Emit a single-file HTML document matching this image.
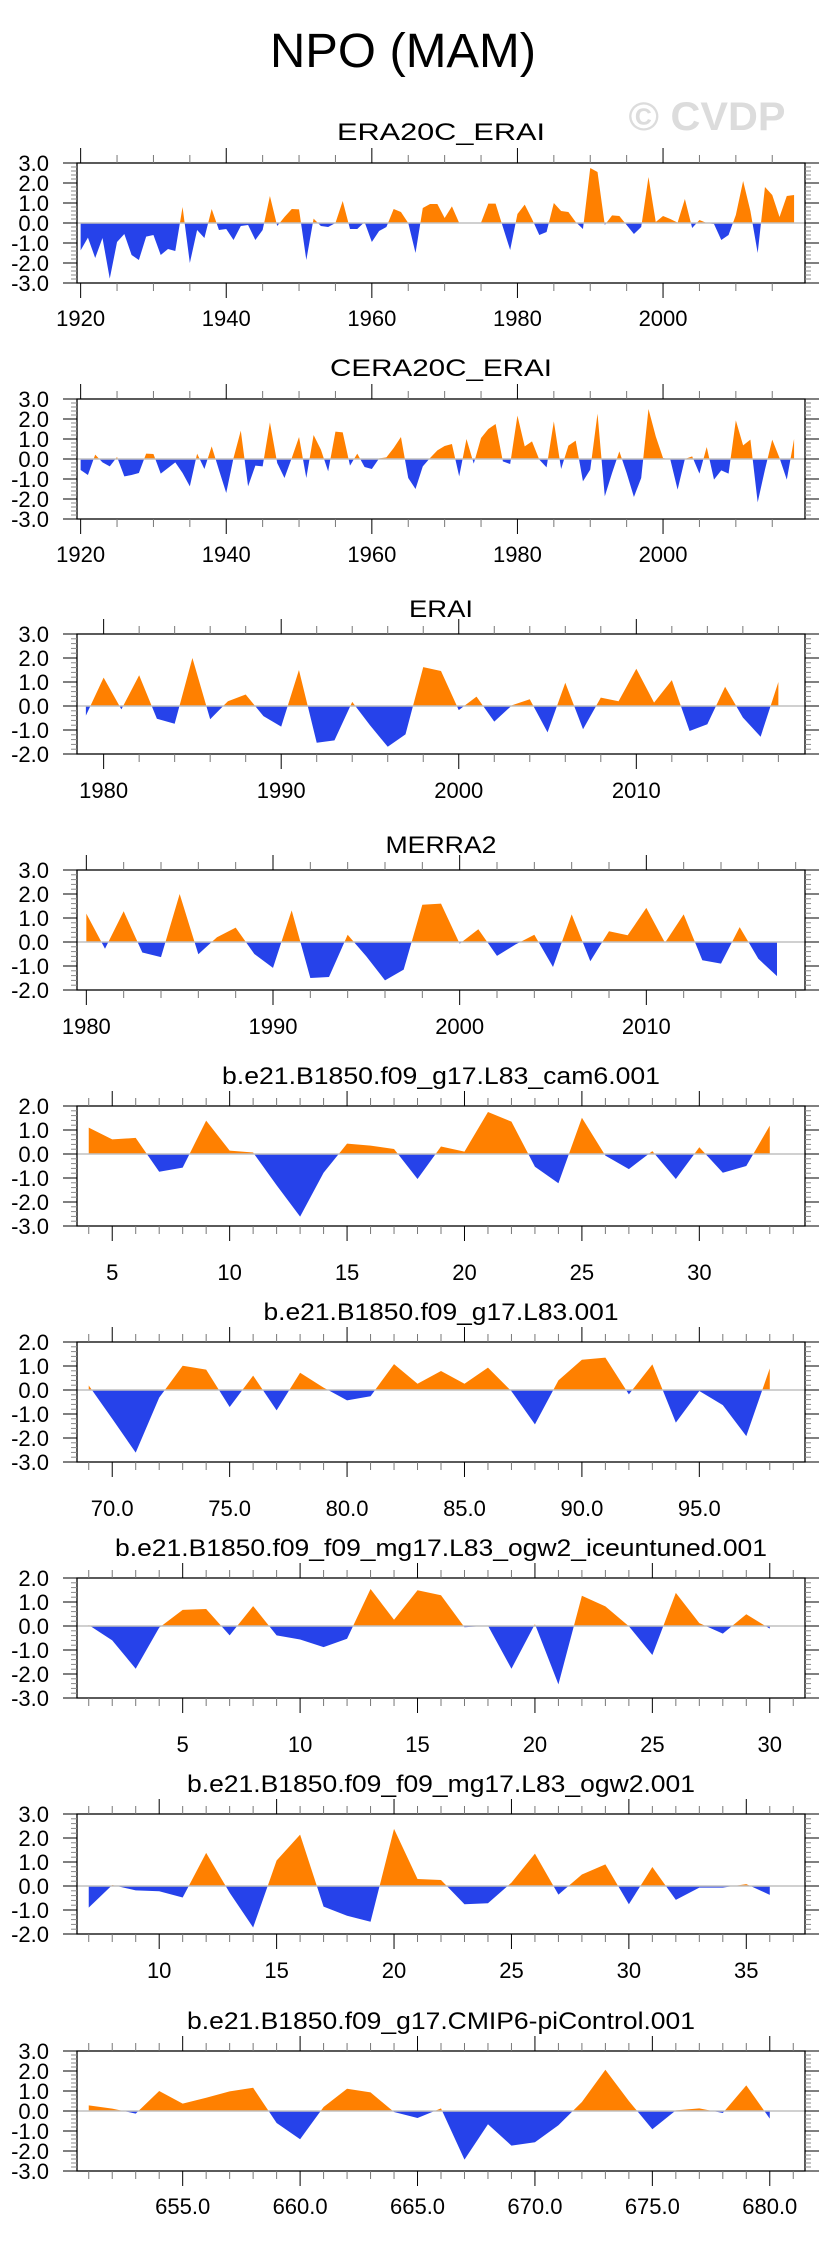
<!DOCTYPE html>
<html><head><meta charset="utf-8"><title>NPO (MAM)</title>
<style>
html,body{margin:0;padding:0;background:#fff;}
svg{display:block;font-family:"Liberation Sans",Arial,sans-serif;}
</style></head>
<body>
<svg id="fig" width="829" height="2245" viewBox="0 0 829 2245" xmlns="http://www.w3.org/2000/svg">
<rect width="829" height="2245" fill="#fff"/>
<text x="403" y="67" font-size="48" text-anchor="middle" textLength="266" lengthAdjust="spacingAndGlyphs">NPO (MAM)</text>
<text x="707" y="130" font-size="40" font-weight="bold" fill="#dcdcdc" text-anchor="middle" textLength="157" lengthAdjust="spacingAndGlyphs">© CVDP</text>
</svg>
<script>
// ---- data ----
const era20cStart = 1920;
const era20cValues = [-1.37,-0.73,-1.75,-0.75,-2.78,-0.95,-0.55,-1.6,-1.85,-0.68,
-0.6,-1.6,-1.3,-1.4,0.8,-2.0,-0.35,-0.75,0.7,-0.35,
-0.3,-0.85,-0.15,-0.1,-0.85,-0.35,1.35,-0.15,0.3,0.7,
0.68,-1.85,0.22,-0.15,-0.2,0.0,1.1,-0.3,-0.3,0.05,
-0.95,-0.4,-0.2,0.7,0.55,0.0,-1.5,0.75,0.95,0.95,
0.25,0.83,0.0,0.02,0,0.02,0.97,0.97,-0.2,-1.35,
0.45,0.92,0.2,-0.6,-0.45,1.0,0.6,0.55,0.05,-0.3,
2.75,2.55,-0.1,0.38,0.35,-0.1,-0.55,-0.2,2.3,0.05,
0.35,0.2,0.02,1.2,-0.25,0.15,0.0,-0.05,-0.85,-0.6,
0.4,2.1,0.6,-1.5,1.8,1.4,0.3,1.35,1.4];
const cera20cStart = 1920;
const cera20cValues = [-0.55,-0.8,0.22,-0.17,-0.37,0.1,-0.87,-0.8,-0.7,0.27,
0.25,-0.73,-0.45,-0.17,-0.7,-1.37,0.27,-0.5,0.63,-0.55,
-1.7,0.05,1.42,-1.37,-0.33,-0.37,1.83,-0.2,-0.95,0.05,
1.1,-0.95,1.2,0.47,-0.62,1.37,1.33,-0.33,0.27,-0.4,
-0.5,0.03,0.08,0.55,1.1,-0.95,-1.5,-0.37,0.05,0.43,
0.65,0.75,-0.87,1.0,-0.23,1.05,1.5,1.75,-0.12,-0.25,
2.17,0.63,0.88,-0.03,-0.42,1.88,-0.5,0.67,0.92,-1.12,
-0.53,2.27,-1.87,-0.7,0.38,-0.7,-1.9,-0.95,2.5,1.13,
0.05,-0.03,-1.53,0.0,0.13,-0.73,0.6,-1.03,-0.57,-0.73,
1.93,0.68,0.97,-2.17,-0.53,0.97,0.05,-1.03,1.0];
const eraiStart = 1979;
const eraiValues = [-0.4,1.18,-0.14,1.28,-0.53,-0.74,2.0,-0.55,0.2,0.48,-0.42,-0.86,1.5,-1.53,-1.43,0.17,-0.8,-1.7,-1.18,1.62,1.46,-0.17,0.39,-0.65,0.03,0.28,-1.1,0.97,-0.97,0.35,0.2,1.55,0.14,1.08,-1.04,-0.76,0.8,-0.48,-1.28,1.0];
const merra2Start = 1980;
const merra2Values = [1.18,-0.28,1.28,-0.44,-0.63,2.0,-0.51,0.2,0.6,-0.5,-1.08,1.32,-1.5,-1.46,0.3,-0.6,-1.6,-1.15,1.55,1.6,-0.07,0.53,-0.58,-0.1,0.3,-1.04,1.15,-0.8,0.45,0.28,1.42,-0.03,1.15,-0.76,-0.9,0.62,-0.7,-1.42];
const cam6Start = 4;
const cam6Values = [1.1,0.61,0.67,-0.74,-0.57,1.39,0.14,0.06,-1.3,-2.61,-0.78,0.43,0.35,0.21,-1.04,0.31,0.1,1.75,1.35,-0.53,-1.22,1.51,-0.07,-0.63,0.12,-1.04,0.28,-0.78,-0.5,1.18];
const l83Start = 69;
const l83Values = [0.19,-1.2,-2.61,-0.32,1.01,0.85,-0.71,0.6,-0.85,0.72,0.1,-0.43,-0.26,1.08,0.26,0.79,0.26,0.93,-0.05,-1.43,0.4,1.26,1.35,-0.18,1.07,-1.36,-0.04,-0.63,-1.92,0.9];
const iceStart = 1;
const iceValues = [0.04,-0.6,-1.78,-0.07,0.67,0.71,-0.39,0.83,-0.39,-0.56,-0.88,-0.53,1.54,0.26,1.49,1.28,-0.05,0.01,-1.78,0.08,-2.43,1.26,0.82,-0.01,-1.21,1.38,0.12,-0.32,0.49,-0.11];
const ogw2Start = 7;
const ogw2Values = [-0.9,0.04,-0.18,-0.22,-0.48,1.38,-0.28,-1.73,1.06,2.14,-0.86,-1.24,-1.49,2.38,0.29,0.25,-0.76,-0.72,0.14,1.35,-0.36,0.48,0.9,-0.76,0.79,-0.58,-0.07,-0.07,0.08,-0.37];
const piStart = 651;
const piValues = [0.28,0.12,-0.13,1.0,0.37,0.66,0.98,1.16,-0.6,-1.41,0.2,1.11,0.93,-0.05,-0.35,0.13,-2.43,-0.66,-1.73,-1.56,-0.71,0.45,2.06,0.5,-0.91,0.03,0.13,-0.1,1.28,-0.38];

const titles = ["ERA20C_ERAI","CERA20C_ERAI","ERAI","MERRA2","b.e21.B1850.f09_g17.L83_cam6.001","b.e21.B1850.f09_g17.L83.001","b.e21.B1850.f09_f09_mg17.L83_ogw2_iceuntuned.001","b.e21.B1850.f09_f09_mg17.L83_ogw2.001","b.e21.B1850.f09_g17.CMIP6-piControl.001"];
const xTickLabels1 = [1920,1940,1960,1980,2000];
const xTickLabels3 = [1980,1990,2000,2010];
const xTickLabels5 = [5,10,15,20,25,30];
const xTickLabels6 = [70,75,80,85,90,95];
const xTickLabels7 = [5,10,15,20,25,30];
const xTickLabels8 = [10,15,20,25,30,35];
const xTickLabels9 = [655,660,665,670,675,680];
const yTicksA = [-3,-2,-1,0,1,2,3];
const yTicksB = [-2,-1,0,1,2,3];
const yTicksC = [-3,-2,-1,0,1,2];

// ---- layout ----
const NS = "http://www.w3.org/2000/svg";
const svg = document.getElementById('fig');
const L = 77, R = 805, H = 120;
function mk(tag, attrs, parent){
  const e = document.createElementNS(NS, tag);
  for (const k in attrs) e.setAttribute(k, attrs[k]);
  (parent||svg).appendChild(e);
  return e;
}
const panels = [
 {start:era20cStart, vals:era20cValues, top:163, ymin:-3, ymax:3, yt:yTicksA, xt:xTickLabels1, minor:5, dec:0, tOff:23, lOff:43, tw:208},
 {start:cera20cStart, vals:cera20cValues, top:399, ymin:-3, ymax:3, yt:yTicksA, xt:xTickLabels1, minor:5, dec:0, tOff:23, lOff:43, tw:222},
 {start:eraiStart, vals:eraiValues, top:634, ymin:-2, ymax:3, yt:yTicksB, xt:xTickLabels3, minor:2, dec:0, tOff:17, lOff:44, tw:64},
 {start:merra2Start, vals:merra2Values, top:870, ymin:-2, ymax:3, yt:yTicksB, xt:xTickLabels3, minor:2, dec:0, tOff:17, lOff:44, tw:111},
 {start:cam6Start, vals:cam6Values, top:1106, ymin:-3, ymax:2, yt:yTicksC, xt:xTickLabels5, minor:1, dec:0, tOff:22, lOff:54, tw:438},
 {start:l83Start, vals:l83Values, top:1342, ymin:-3, ymax:2, yt:yTicksC, xt:xTickLabels6, minor:1, dec:1, tOff:22, lOff:54, tw:355},
 {start:iceStart, vals:iceValues, top:1578, ymin:-3, ymax:2, yt:yTicksC, xt:xTickLabels7, minor:1, dec:0, tOff:22, lOff:54, tw:652},
 {start:ogw2Start, vals:ogw2Values, top:1814, ymin:-2, ymax:3, yt:yTicksB, xt:xTickLabels8, minor:1, dec:0, tOff:22, lOff:44, tw:508},
 {start:piStart, vals:piValues, top:2051, ymin:-3, ymax:3, yt:yTicksA, xt:xTickLabels9, minor:1, dec:1, tOff:22, lOff:43, tw:508}
];

panels.forEach((p, i) => {
  const xs = p.vals.map((v, k) => p.start + k);
  const xmin = xs[0] - 0.5, xmax = xs[xs.length-1] + 1.5;
  const X = v => L + (v - xmin) / (xmax - xmin) * (R - L);
  const Y = v => p.top + (p.ymax - v) / (p.ymax - p.ymin) * H;
  const g = mk('g', {});
  
  

  const t = mk('text', {x:(L+R)/2, y:p.top - p.tOff, 'font-size':24, 'text-anchor':'middle', textLength:p.tw, lengthAdjust:'spacingAndGlyphs'}, g);
  t.textContent = titles[i];
  
  

  const cid = 'c' + i;
  const defs = mk('defs', {}, g);
  const cu = mk('clipPath', {id: cid + 'u'}, defs);
  mk('rect', {x:L, y:p.top, width:R-L, height:Y(0)-p.top}, cu);
  const cd = mk('clipPath', {id: cid + 'd'}, defs);
  mk('rect', {x:L, y:Y(0), width:R-L, height:p.top+H-Y(0)}, cd);
  let d = 'M' + X(xs[0]) + ',' + Y(0);
  xs.forEach((x, k) => { d += ' L' + X(x).toFixed(2) + ',' + Y(p.vals[k]).toFixed(2); });
  d += ' L' + X(xs[xs.length-1]) + ',' + Y(0) + ' Z';
  const up = mk('path', {d:d, fill:'#ff8000', 'clip-path':'url(#' + cid + 'u)'}, g);
  
  
  const dn = mk('path', {d:d, fill:'#2642ea', 'clip-path':'url(#' + cid + 'd)'}, g);
  
  
  const zl = mk('line', {x1:L, x2:R, y1:Y(0), y2:Y(0), stroke:'#c0c0c0', 'stroke-width':1.5}, g);
  
  

  const fr = mk('rect', {x:L, y:p.top, width:R-L, height:H, fill:'none', stroke:'#000', 'stroke-width':1.3}, g);
  
  

  const bot = p.top + H;
  const first = Math.ceil(xmin / p.minor) * p.minor;
  for (let v = first; v <= xmax; v += p.minor) {
    const xp = X(v);
    const major = p.xt.indexOf(v) >= 0;
    const len = major ? 15 : 8;
    const col = major ? '#000' : '#777';
    mk('line', {x1:xp, x2:xp, y1:p.top, y2:p.top - len, stroke:col, 'stroke-width':1}, g);
    mk('line', {x1:xp, x2:xp, y1:bot, y2:bot + len, stroke:col, 'stroke-width':1}, g);
  }
  p.xt.forEach(v => {
    const tl = mk('text', {x:X(v), y:bot + p.lOff, 'font-size':22, 'text-anchor':'middle'}, g);
    tl.textContent = p.dec ? v.toFixed(1) : String(v);
    
    
  });
  for (let v = p.ymin; v <= p.ymax + 1e-9; v += 0.2) {
    const yp = Y(v);
    const major = Math.abs(v - Math.round(v)) < 1e-6;
    const len = major ? 14 : 6;
    const col = major ? '#000' : '#888';
    mk('line', {x1:L, x2:L - len, y1:yp, y2:yp, stroke:col, 'stroke-width':1}, g);
    mk('line', {x1:R, x2:R + len, y1:yp, y2:yp, stroke:col, 'stroke-width':1}, g);
  }
  p.yt.forEach(v => {
    const yl = mk('text', {x:49, y:Y(v) + 8, 'font-size':22, 'text-anchor':'end'}, g);
    yl.textContent = v.toFixed(1);
    
    
  });
});
</script>
</body></html>
